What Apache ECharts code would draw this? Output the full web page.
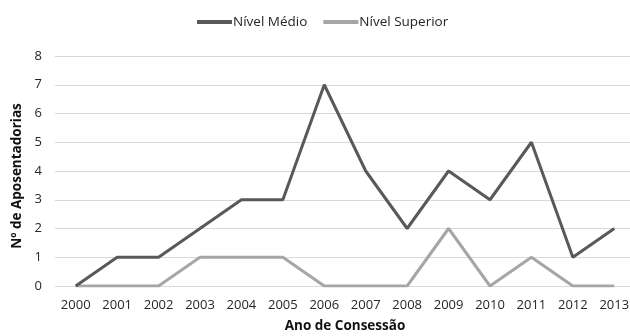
<!DOCTYPE html>
<html>
<head>
<meta charset="utf-8">
<script src="https://cdn.jsdelivr.net/npm/echarts@6/dist/echarts.min.js"></script>
<style>
  html, body { margin: 0; padding: 0; background: #fff; overflow: hidden; }
  #chart { width: 630px; height: 336px; }
</style>
</head>
<body>
<div id="chart"></div>
<script>
// Years of concession
const years = ['2000','2001','2002','2003','2004','2005','2006','2007','2008','2009','2010','2011','2012','2013'];
// Retirements per year, by education level
const nivelMedio = [0,1,1,2,3,3,7,4,2,4,3,5,1,2];
const nivelSuperior = [0,0,0,1,1,1,0,0,0,2,0,1,0,0];

const FONT = '"Open Sans", "Liberation Sans", sans-serif';

const chart = echarts.init(document.getElementById('chart'), null, { renderer: 'canvas' });
chart.setOption({
  animation: false,
  textStyle: { fontFamily: FONT },
  legend: {
    top: 15,
    left: 197,
    padding: 0,
    itemWidth: 35,
    itemHeight: 4,
    itemGap: 16,
    icon: 'rect',
    textStyle: { fontFamily: FONT, fontSize: 13.5, color: '#262626', padding: [0, 0, 0, -4] },
    data: ['Nível Médio', 'Nível Superior']
  },
  grid: { left: 55, width: 580, top: 56, height: 230, outerBoundsMode: 'none', containLabel: false },
  xAxis: {
    type: 'category',
    data: years,
    boundaryGap: true,
    name: 'Ano de Consessão',
    nameLocation: 'middle',
    nameGap: 33,
    nameTextStyle: { fontFamily: FONT, fontWeight: 'bold', fontSize: 13.5, color: '#111' },
    axisLine: { show: true, lineStyle: { color: '#d9d9d9', width: 1 } },
    axisTick: { show: false },
    axisLabel: { fontFamily: FONT, fontSize: 13, color: '#262626', margin: 13, interval: 0 },
    z: 1
  },
  yAxis: {
    type: 'value',
    min: 0,
    max: 8,
    interval: 1,
    name: 'Nº de Aposentadorias',
    nameLocation: 'middle',
    nameGap: 28,
    nameTextStyle: { fontFamily: FONT, fontWeight: 'bold', fontSize: 13.5, color: '#111', padding: [0, 10, 0, 0] },
    axisLine: { show: false },
    axisTick: { show: false },
    axisLabel: { fontFamily: FONT, fontSize: 13, color: '#262626', margin: 13 },
    splitLine: { lineStyle: { color: '#d9d9d9', width: 1 } }
  },
  series: [
    {
      name: 'Nível Médio',
      type: 'line',
      data: nivelMedio,
      symbol: 'none',
      lineStyle: { color: '#595959', width: 3 },
      itemStyle: { color: '#595959' },
      z: 3
    },
    {
      name: 'Nível Superior',
      type: 'line',
      data: nivelSuperior,
      symbol: 'none',
      lineStyle: { color: '#a6a6a6', width: 3 },
      itemStyle: { color: '#a6a6a6' },
      z: 2
    }
  ]
});
</script>
</body>
</html>
